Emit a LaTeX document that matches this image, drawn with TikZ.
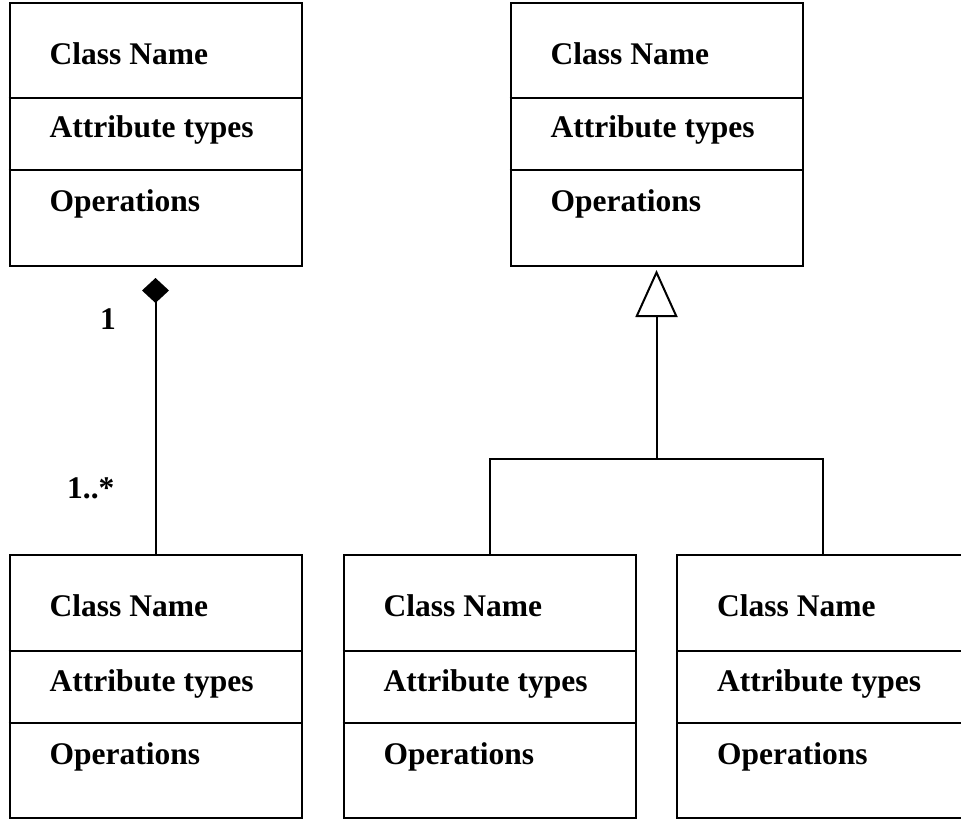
\documentclass[tikz,border=0pt]{standalone}
\usepackage{fontspec}
\setmainfont{Liberation Serif}
\usetikzlibrary{arrows.meta}

\begin{document}
\begin{tikzpicture}[x=1pt,y=-1pt]
    \tikzset{classbox/.style={draw=black, line width=2pt, inner sep=0pt, minimum width=292pt, minimum height=263pt}}
    \tikzset{divider/.style={black, line width=2pt}}
    \tikzset{classtext/.style={anchor=base west, inner sep=0pt, font=\fontsize{31.5}{36}\selectfont\bfseries}}
    \tikzset{link/.style={black, line width=2pt}}
    \useasboundingbox (0,0) rectangle (961,822);
    % upper classes
    \node [classbox] (whole) at (155.5,134.5) {};
    \draw [divider] ([yshift=-96pt]whole.north west) -- ([yshift=-96pt]whole.north east);
    \draw [divider] ([yshift=-168pt]whole.north west) -- ([yshift=-168pt]whole.north east);
    \node [classtext] (wholename) at ([xshift=41pt,yshift=-62pt]whole.north west) {Class Name};
    \node [classtext] (wholeattr) at ([xshift=41pt,yshift=-135pt]whole.north west) {Attribute types};
    \node [classtext] (wholeops) at ([xshift=41pt,yshift=-209pt]whole.north west) {Operations};
    \node [classbox] (super) at (656.5,134.5) {};
    \draw [divider] ([yshift=-96pt]super.north west) -- ([yshift=-96pt]super.north east);
    \draw [divider] ([yshift=-168pt]super.north west) -- ([yshift=-168pt]super.north east);
    \node [classtext] (supername) at ([xshift=41pt,yshift=-62pt]super.north west) {Class Name};
    \node [classtext] (superattr) at ([xshift=41pt,yshift=-135pt]super.north west) {Attribute types};
    \node [classtext] (superops) at ([xshift=41pt,yshift=-209pt]super.north west) {Operations};
    % lower classes
    \node [classbox] (part) at (155.5,686) {};
    \draw [divider] ([yshift=-97pt]part.north west) -- ([yshift=-97pt]part.north east);
    \draw [divider] ([yshift=-169pt]part.north west) -- ([yshift=-169pt]part.north east);
    \node [classtext] (partname) at ([xshift=41pt,yshift=-63pt]part.north west) {Class Name};
    \node [classtext] (partattr) at ([xshift=41pt,yshift=-138pt]part.north west) {Attribute types};
    \node [classtext] (partops) at ([xshift=41pt,yshift=-211pt]part.north west) {Operations};
    \node [classbox] (subone) at (489.5,686) {};
    \draw [divider] ([yshift=-97pt]subone.north west) -- ([yshift=-97pt]subone.north east);
    \draw [divider] ([yshift=-169pt]subone.north west) -- ([yshift=-169pt]subone.north east);
    \node [classtext] (subonename) at ([xshift=41pt,yshift=-63pt]subone.north west) {Class Name};
    \node [classtext] (suboneattr) at ([xshift=41pt,yshift=-138pt]subone.north west) {Attribute types};
    \node [classtext] (suboneops) at ([xshift=41pt,yshift=-211pt]subone.north west) {Operations};
    \node [classbox] (subtwo) at (823,686) {};
    \draw [divider] ([yshift=-97pt]subtwo.north west) -- ([yshift=-97pt]subtwo.north east);
    \draw [divider] ([yshift=-169pt]subtwo.north west) -- ([yshift=-169pt]subtwo.north east);
    \node [classtext] (subtwoname) at ([xshift=41pt,yshift=-63pt]subtwo.north west) {Class Name};
    \node [classtext] (subtwoattr) at ([xshift=41pt,yshift=-138pt]subtwo.north west) {Attribute types};
    \node [classtext] (subtwoops) at ([xshift=41pt,yshift=-211pt]subtwo.north west) {Operations};
    % composition
    \coordinate (diamondtop) at (155.5,278);
    \draw [link, -{Diamond[length=25pt,width=27pt]}] (part.north) -- (diamondtop);
    \node [classtext] (multone) at (100,329) {1};
    \node [classtext] (multmany) at (67,498) {1..*};
    % generalisation
    \coordinate (fork) at (656.5,459);
    \draw [link] (subone.north) |- (fork) -| (subtwo.north);
    \draw [link, -{Triangle[open,length=47pt,width=42pt,line width=2pt]}] (fork) -- ([yshift=-3pt]super.south);
\end{tikzpicture}
\end{document}
